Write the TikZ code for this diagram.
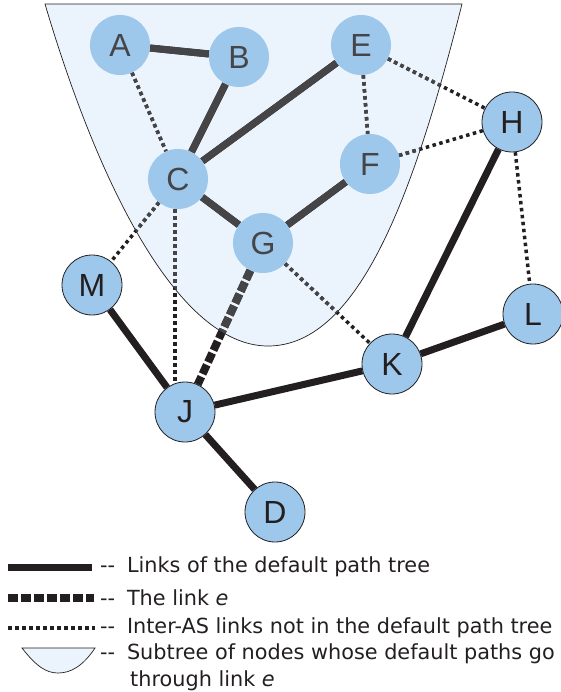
\documentclass[tikz,border=0pt]{standalone}
\usepackage{fontspec}
\setmainfont{Liberation Sans}
\newfontfamily\legfont{DejaVu Sans}
\definecolor{nodefill}{HTML}{9DC7EB}
\definecolor{regfill}{HTML}{EBF3FC}
\definecolor{dark}{HTML}{231F20}
\definecolor{innergray}{HTML}{454548}
\pgfdeclarelayer{bg}
\pgfdeclarelayer{edges}
\pgfsetlayers{bg,edges,main}
\newcommand\legdash{--\hspace{0.25em} }
\begin{document}
\begin{tikzpicture}[x=1pt,y=-1pt,
  nd/.style={circle, minimum size=60pt, inner sep=0pt, fill=nodefill, font=\fontsize{32}{32}\selectfont},
  ndo/.style={nd, draw=dark, line width=0.8pt, text=dark},
  ndi/.style={nd, text=innergray},
  ec/.style={draw=dark},
  tree/.style={ec, line width=7pt},
  linke/.style={ec, line width=8pt, dash pattern=on 10pt off 3pt},
  inter/.style={ec, line width=3.5pt, dash pattern=on 3.5pt off 3.5pt},
  leg/.style={anchor=west, inner sep=0pt, font=\legfont\fontsize{20.8}{24}\selectfont, text=dark}]
\useasboundingbox (0,0) rectangle (560,692);
\def\regionpath{(45,4) .. controls (100,190) and (180,346) .. (268,346) .. controls (360,346) and (415,190) .. (462,4) -- cycle}
\def\alledges{%
  \draw[tree] (A) -- (B);
  \draw[tree] (B) -- (C);
  \draw[tree] (C) -- (E);
  \draw[tree] (C) -- (G);
  \draw[tree] (G) -- (F);
  \draw[tree] (M) -- (J);
  \draw[tree] (J) -- (D);
  \draw[tree] (J) -- (K);
  \draw[tree] (K) -- (H);
  \draw[tree] (K) -- (L);
  \draw[linke] (G) -- (J);
  \draw[inter] (A) -- (C);
  \draw[inter] (E) -- (F);
  \draw[inter] (E) -- (H);
  \draw[inter] (F) -- (H);
  \draw[inter] (C) -- (M);
  \draw[inter] ([xshift=-3pt]C.south) -- ([xshift=-10pt]J.north);
  \draw[inter] (G) -- (K);
  \draw[inter] (H) -- (L);
}
% nodes
\node[ndi] (A) at (120,45) {A};
\node[ndi] (B) at (239,57) {B};
\node[ndi] (E) at (361,45) {E};
\node[ndi] (C) at (178,179) {C};
\node[ndi] (F) at (370,164) {F};
\node[ndi] (G) at (263,243) {G};
\node[ndo] (M) at (92,285) {M};
\node[ndo] (H) at (512,122) {H};
\node[ndo] (L) at (533,314) {L};
\node[ndo] (K) at (392,364) {K};
\node[ndo] (J) at (185,412) {J};
\node[ndo] (D) at (275,512) {D};
\begin{pgfonlayer}{bg}
  \path[fill=regfill, draw=dark, line width=0.7pt] \regionpath;
\end{pgfonlayer}
\begin{pgfonlayer}{edges}
  \alledges
  \begin{scope}
    \clip \regionpath;
    \tikzset{ec/.style={draw=innergray}}
    \alledges
  \end{scope}
\end{pgfonlayer}
% legend
\coordinate (l1a) at (8,567); \coordinate (l1b) at (92,567);
\coordinate (l2a) at (8,598); \coordinate (l2b) at (94,598);
\coordinate (l3a) at (8,628); \coordinate (l3b) at (95,628);
\draw[tree] (l1a) -- (l1b);
\draw[linke] (l2a) -- (l2b);
\draw[inter] (l3a) -- (l3b);
\path[fill=regfill, draw=dark, line width=0.7pt] (22,648) .. controls (36,666) and (46,673) .. (58,673) .. controls (71,673) and (83,666) .. (95,648) -- cycle;
\node[leg] (t1) at (100,567) {\legdash Links of the default path tree};
\node[leg] (t2) at (100,598) {\legdash The link \textit{e}};
\node[leg] (t3) at (100,628) {\legdash Inter-AS links not in the default path tree};
\node[leg] (t4) at (100,654) {\legdash Subtree of nodes whose default paths go};
\node[leg] (t5) at (130,681) {through link \textit{e}};
\end{tikzpicture}
\end{document}
